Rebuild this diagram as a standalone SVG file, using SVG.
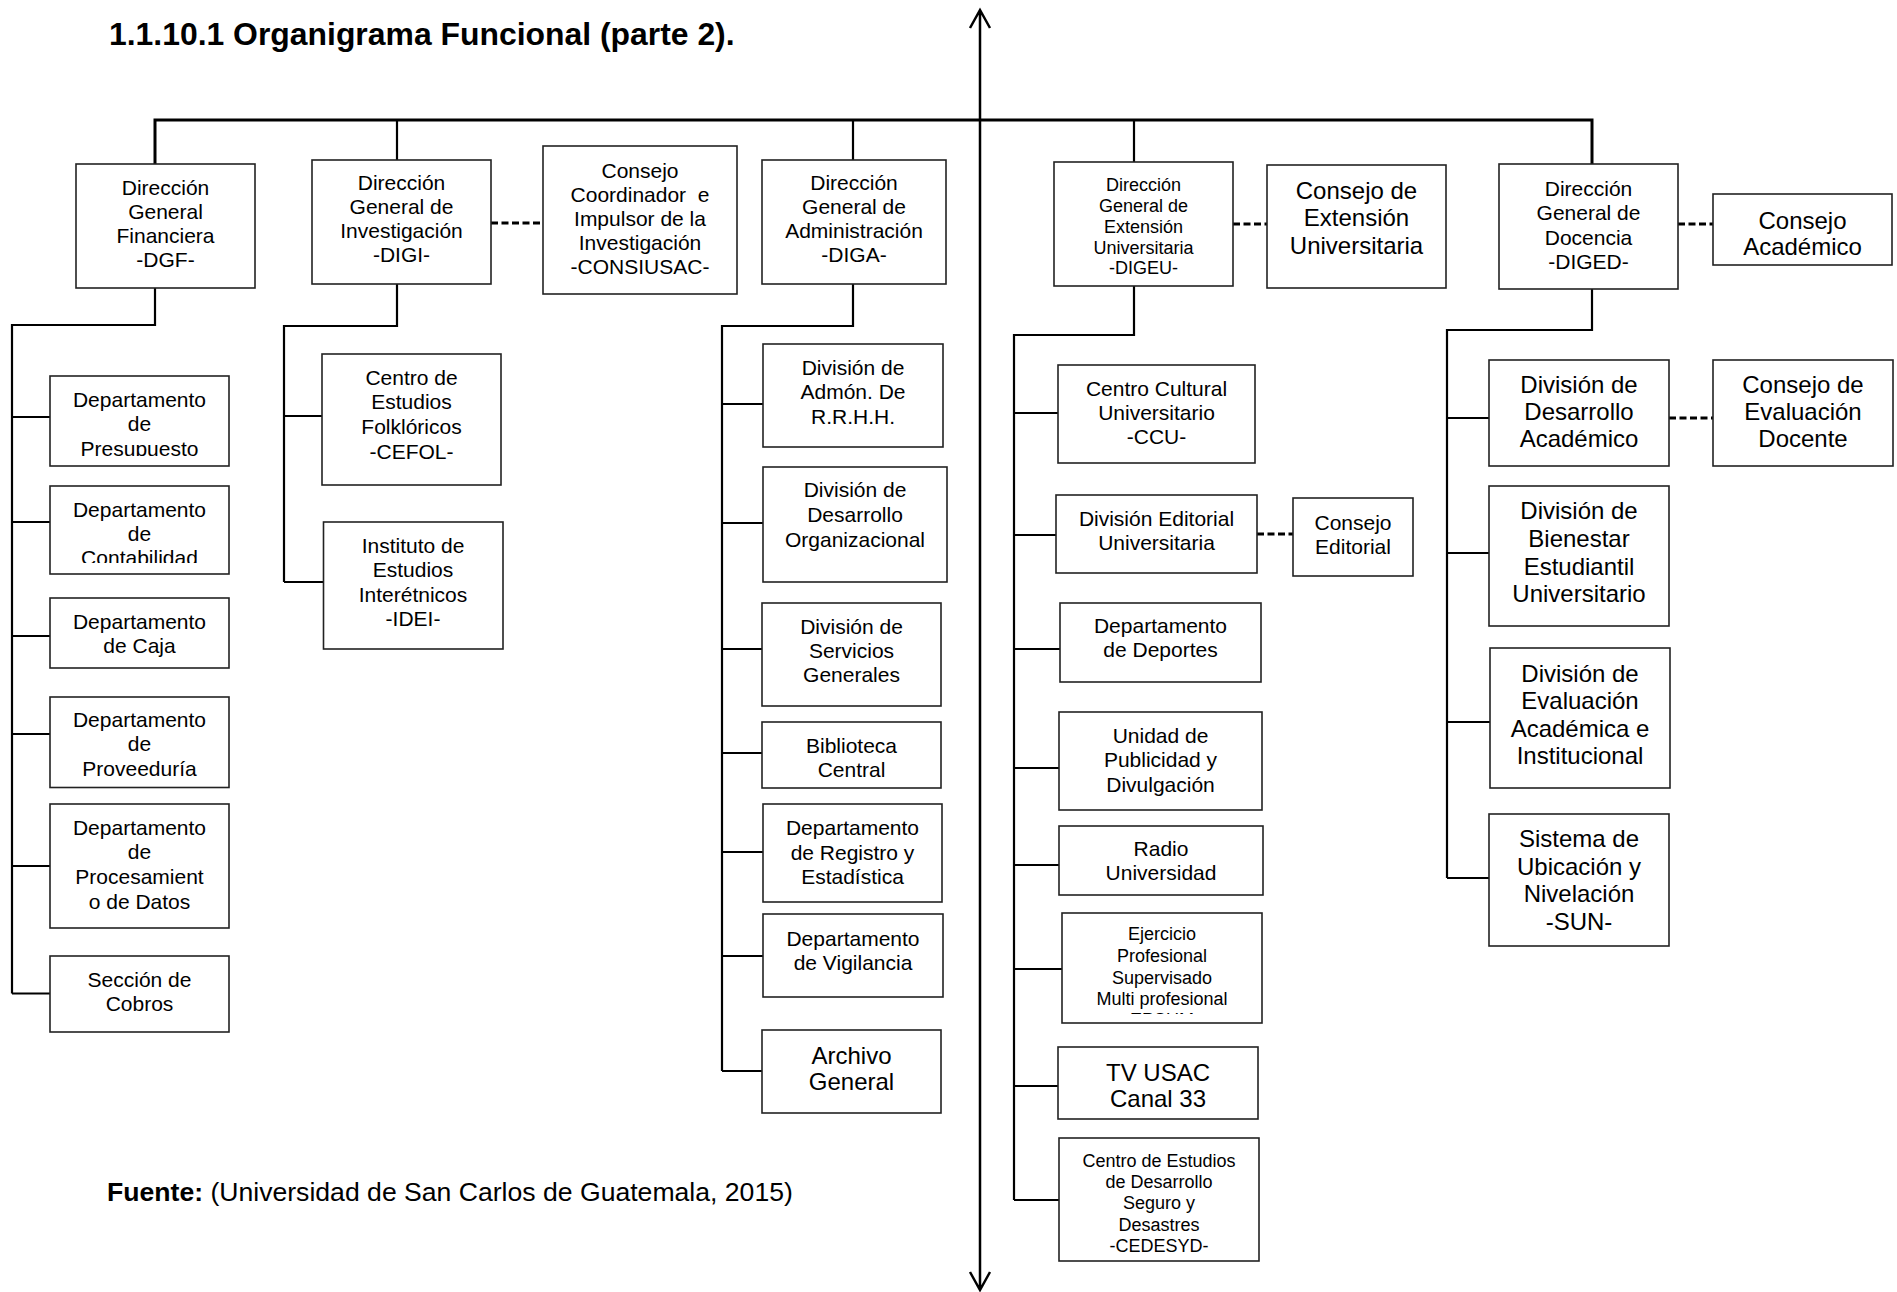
<svg xmlns="http://www.w3.org/2000/svg" width="1897" height="1292" viewBox="0 0 1897 1292">
<style>
.box{fill:#fff;stroke:#222;stroke-width:1.6}
.t{font-family:"Liberation Sans",Arial,sans-serif;text-anchor:middle;fill:#000}
.s18{font-size:18px}.s21{font-size:21px}.s24{font-size:24px}
.ln{fill:none;stroke:#000;stroke-width:2.2}
.bus{fill:none;stroke:#000;stroke-width:3}
.dash{fill:none;stroke:#000;stroke-width:3;stroke-dasharray:7 3.5}
.spine{fill:none;stroke:#000;stroke-width:2.5}
</style>
<defs>
<clipPath id="cPres"><rect x="50" y="376" width="179" height="80"/></clipPath>
<clipPath id="cCont"><rect x="50" y="486" width="179" height="77"/></clipPath>
<clipPath id="cEps"><rect x="1062" y="913" width="200" height="101"/></clipPath>
</defs>
<rect width="1897" height="1292" fill="#fff"/>
<text x="109" y="45" style="font-family:'Liberation Sans',Arial,sans-serif;font-size:31.9px;font-weight:bold">1.1.10.1 Organigrama Funcional (parte 2).</text>
<text x="107" y="1201" style="font-family:'Liberation Sans',Arial,sans-serif;font-size:26.6px"><tspan font-weight="bold">Fuente:</tspan> (Universidad de San Carlos de Guatemala, 2015)</text>

<g id="connectors">
<path class="spine" d="M980 10V1290M970 28L980 10L990 28M970 1272L980 1290L990 1272"/>
<path class="bus" d="M155 164V120H1592V164"/>
<path class="ln" d="M397 120V160M853 120V160M1134 120V162"/>
<path class="ln" d="M155 288V325H12V993.5M12 417H50M12 522H50M12 636H50M12 734H50M12 866H50M12 993.5H50"/>
<path class="ln" d="M397 284V326H284V582M284 416H322M284 582H323.5"/>
<path class="ln" d="M853 284V326H722V1071M722 404H763M722 523H763M722 649H762M722 753H762M722 852H763M722 956H763M722 1071H762"/>
<path class="ln" d="M1134 286V335H1014V1200M1014 413H1058M1014 535H1056M1014 649H1060M1014 768H1059M1014 865H1059M1014 969H1062M1014 1086H1058M1014 1200H1059"/>
<path class="ln" d="M1592 289V330H1447V878M1447 418H1489M1447 553H1489M1447 722H1490M1447 878H1489"/>
<path class="dash" d="M491 223H543M1233 224H1267M1678 224H1713M1257 534H1293M1669 418H1713"/>
</g>

<g id="dgf"><rect class="box" x="76" y="164" width="179" height="124"/>
<text class="t s21"><tspan x="165.5" y="195">Dirección</tspan><tspan x="165.5" y="219">General</tspan><tspan x="165.5" y="243">Financiera</tspan><tspan x="165.5" y="267">-DGF-</tspan></text></g>
<g id="digi"><rect class="box" x="312" y="160" width="179" height="124"/>
<text class="t s21"><tspan x="401.5" y="190">Dirección</tspan><tspan x="401.5" y="214">General de</tspan><tspan x="401.5" y="238">Investigación</tspan><tspan x="401.5" y="262">-DIGI-</tspan></text></g>
<g id="consiusac"><rect class="box" x="543" y="146" width="194" height="148"/>
<text class="t s21"><tspan x="640" y="177.5">Consejo</tspan><tspan x="640" y="201.5">Coordinador&#160; e</tspan><tspan x="640" y="225.5">Impulsor de la</tspan><tspan x="640" y="249.5">Investigación</tspan><tspan x="640" y="273.5">-CONSIUSAC-</tspan></text></g>
<g id="diga"><rect class="box" x="762" y="160" width="184" height="124"/>
<text class="t s21"><tspan x="854" y="190">Dirección</tspan><tspan x="854" y="214">General de</tspan><tspan x="854" y="238">Administración</tspan><tspan x="854" y="262">-DIGA-</tspan></text></g>
<g id="digeu"><rect class="box" x="1054" y="162" width="179" height="124"/>
<text class="t s18"><tspan x="1143.5" y="190.5">Dirección</tspan><tspan x="1143.5" y="211.5">General de</tspan><tspan x="1143.5" y="232.5">Extensión</tspan><tspan x="1143.5" y="253.5">Universitaria</tspan><tspan x="1143.5" y="274">-DIGEU-</tspan></text></g>
<g id="consejo-ext"><rect class="box" x="1267" y="165" width="179" height="123"/>
<text class="t s24"><tspan x="1356.5" y="198.5">Consejo de</tspan><tspan x="1356.5" y="226">Extensión</tspan><tspan x="1356.5" y="253.5">Universitaria</tspan></text></g>
<g id="diged"><rect class="box" x="1499" y="164" width="179" height="125"/>
<text class="t s21"><tspan x="1588.5" y="195.5">Dirección</tspan><tspan x="1588.5" y="220">General de</tspan><tspan x="1588.5" y="244.5">Docencia</tspan><tspan x="1588.5" y="269">-DIGED-</tspan></text></g>
<g id="consejo-acad"><rect class="box" x="1713" y="194" width="179" height="71"/>
<text class="t s24"><tspan x="1802.5" y="228.5">Consejo</tspan><tspan x="1802.5" y="254.5">Académico</tspan></text></g>

<g id="presupuesto"><rect class="box" x="50" y="376" width="179" height="90"/>
<text class="t s21" clip-path="url(#cPres)"><tspan x="139.5" y="406.5">Departamento</tspan><tspan x="139.5" y="431">de</tspan><tspan x="139.5" y="455.5">Presupuesto</tspan></text></g>
<g id="contabilidad"><rect class="box" x="50" y="486" width="179" height="88"/>
<text class="t s21" clip-path="url(#cCont)"><tspan x="139.5" y="516.5">Departamento</tspan><tspan x="139.5" y="540.5">de</tspan><tspan x="139.5" y="564.5">Contabilidad</tspan></text></g>
<g id="caja"><rect class="box" x="50" y="598" width="179" height="70"/>
<text class="t s21"><tspan x="139.5" y="628.5">Departamento</tspan><tspan x="139.5" y="652.5">de Caja</tspan></text></g>
<g id="proveeduria"><rect class="box" x="50" y="697" width="179" height="90.5"/>
<text class="t s21"><tspan x="139.5" y="726.5">Departamento</tspan><tspan x="139.5" y="751">de</tspan><tspan x="139.5" y="775.5">Proveeduría</tspan></text></g>
<g id="procesamiento"><rect class="box" x="50" y="804" width="179" height="124"/>
<text class="t s21"><tspan x="139.5" y="834.5">Departamento</tspan><tspan x="139.5" y="859">de</tspan><tspan x="139.5" y="884">Procesamient</tspan><tspan x="139.5" y="908.5">o de Datos</tspan></text></g>
<g id="cobros"><rect class="box" x="50" y="956" width="179" height="76"/>
<text class="t s21"><tspan x="139.5" y="986.5">Sección de</tspan><tspan x="139.5" y="1010.5">Cobros</tspan></text></g>

<g id="cefol"><rect class="box" x="322" y="354" width="179" height="131"/>
<text class="t s21"><tspan x="411.5" y="384.5">Centro de</tspan><tspan x="411.5" y="409">Estudios</tspan><tspan x="411.5" y="433.5">Folklóricos</tspan><tspan x="411.5" y="458.5">-CEFOL-</tspan></text></g>
<g id="idei"><rect class="box" x="323.5" y="522" width="179.5" height="127"/>
<text class="t s21"><tspan x="413" y="552.5">Instituto de</tspan><tspan x="413" y="577">Estudios</tspan><tspan x="413" y="601.5">Interétnicos</tspan><tspan x="413" y="626">-IDEI-</tspan></text></g>

<g id="rrhh"><rect class="box" x="763" y="344" width="180" height="103"/>
<text class="t s21"><tspan x="853" y="374.5">División de</tspan><tspan x="853" y="399">Admón. De</tspan><tspan x="853" y="424">R.R.H.H.</tspan></text></g>
<g id="desarrollo-org"><rect class="box" x="763" y="467" width="184" height="115"/>
<text class="t s21"><tspan x="855" y="496.5">División de</tspan><tspan x="855" y="521.5">Desarrollo</tspan><tspan x="855" y="546.5">Organizacional</tspan></text></g>
<g id="servicios"><rect class="box" x="762" y="603" width="179" height="103"/>
<text class="t s21"><tspan x="851.5" y="633.5">División de</tspan><tspan x="851.5" y="657.5">Servicios</tspan><tspan x="851.5" y="682">Generales</tspan></text></g>
<g id="biblioteca"><rect class="box" x="762" y="722" width="179" height="66"/>
<text class="t s21"><tspan x="851.5" y="752.5">Biblioteca</tspan><tspan x="851.5" y="776.5">Central</tspan></text></g>
<g id="registro"><rect class="box" x="763" y="804" width="179" height="98"/>
<text class="t s21"><tspan x="852.5" y="835">Departamento</tspan><tspan x="852.5" y="859.5">de Registro y</tspan><tspan x="852.5" y="883.5">Estadística</tspan></text></g>
<g id="vigilancia"><rect class="box" x="763" y="914" width="180" height="83"/>
<text class="t s21"><tspan x="853" y="945.5">Departamento</tspan><tspan x="853" y="969.5">de Vigilancia</tspan></text></g>
<g id="archivo"><rect class="box" x="762" y="1030" width="179" height="83"/>
<text class="t s24"><tspan x="851.5" y="1063.5">Archivo</tspan><tspan x="851.5" y="1089.5">General</tspan></text></g>

<g id="ccu"><rect class="box" x="1058" y="365" width="197" height="98"/>
<text class="t s21"><tspan x="1156.5" y="395.5">Centro Cultural</tspan><tspan x="1156.5" y="419.5">Universitario</tspan><tspan x="1156.5" y="444">-CCU-</tspan></text></g>
<g id="editorial"><rect class="box" x="1056" y="495" width="201" height="78"/>
<text class="t s21"><tspan x="1156.5" y="525.5">División Editorial</tspan><tspan x="1156.5" y="549.5">Universitaria</tspan></text></g>
<g id="consejo-editorial"><rect class="box" x="1293" y="498" width="120" height="78"/>
<text class="t s21"><tspan x="1353" y="529.5">Consejo</tspan><tspan x="1353" y="553.5">Editorial</tspan></text></g>
<g id="deportes"><rect class="box" x="1060" y="603" width="201" height="79"/>
<text class="t s21"><tspan x="1160.5" y="632.5">Departamento</tspan><tspan x="1160.5" y="657">de Deportes</tspan></text></g>
<g id="publicidad"><rect class="box" x="1059" y="712" width="203" height="98"/>
<text class="t s21"><tspan x="1160.5" y="742.5">Unidad de</tspan><tspan x="1160.5" y="767">Publicidad y</tspan><tspan x="1160.5" y="791.5">Divulgación</tspan></text></g>
<g id="radio"><rect class="box" x="1059" y="826" width="204" height="69"/>
<text class="t s21"><tspan x="1161" y="855.5">Radio</tspan><tspan x="1161" y="880">Universidad</tspan></text></g>
<g id="eps"><rect class="box" x="1062" y="913" width="200" height="110"/>
<text class="t s18" clip-path="url(#cEps)"><tspan x="1162" y="939.5">Ejercicio</tspan><tspan x="1162" y="961.5">Profesional</tspan><tspan x="1162" y="984">Supervisado</tspan><tspan x="1162" y="1005">Multi profesional</tspan><tspan x="1162" y="1025.5">-EPSUM-</tspan></text></g>
<g id="tvusac"><rect class="box" x="1058" y="1047" width="200" height="72"/>
<text class="t s24"><tspan x="1158" y="1080.5">TV USAC</tspan><tspan x="1158" y="1107">Canal 33</tspan></text></g>
<g id="cedesyd"><rect class="box" x="1059" y="1138" width="200" height="123"/>
<text class="t s18"><tspan x="1159" y="1166.5">Centro de Estudios</tspan><tspan x="1159" y="1187.5">de Desarrollo</tspan><tspan x="1159" y="1208.5">Seguro y</tspan><tspan x="1159" y="1230.5">Desastres</tspan><tspan x="1159" y="1251.5">-CEDESYD-</tspan></text></g>

<g id="desarrollo-acad"><rect class="box" x="1489" y="360" width="180" height="106"/>
<text class="t s24"><tspan x="1579" y="392.5">División de</tspan><tspan x="1579" y="420">Desarrollo</tspan><tspan x="1579" y="446.5">Académico</tspan></text></g>
<g id="consejo-eval"><rect class="box" x="1713" y="360" width="180" height="106"/>
<text class="t s24"><tspan x="1803" y="392.5">Consejo de</tspan><tspan x="1803" y="420">Evaluación</tspan><tspan x="1803" y="446.5">Docente</tspan></text></g>
<g id="bienestar"><rect class="box" x="1489" y="486" width="180" height="140"/>
<text class="t s24"><tspan x="1579" y="518.5">División de</tspan><tspan x="1579" y="546.5">Bienestar</tspan><tspan x="1579" y="574.5">Estudiantil</tspan><tspan x="1579" y="601.5">Universitario</tspan></text></g>
<g id="evaluacion"><rect class="box" x="1490" y="648" width="180" height="140"/>
<text class="t s24"><tspan x="1580" y="681.5">División de</tspan><tspan x="1580" y="709">Evaluación</tspan><tspan x="1580" y="736.5">Académica e</tspan><tspan x="1580" y="763.5">Institucional</tspan></text></g>
<g id="sun"><rect class="box" x="1489" y="814" width="180" height="132"/>
<text class="t s24"><tspan x="1579" y="846.5">Sistema de</tspan><tspan x="1579" y="874.5">Ubicación y</tspan><tspan x="1579" y="901.5">Nivelación</tspan><tspan x="1579" y="930">-SUN-</tspan></text></g>
</svg>
